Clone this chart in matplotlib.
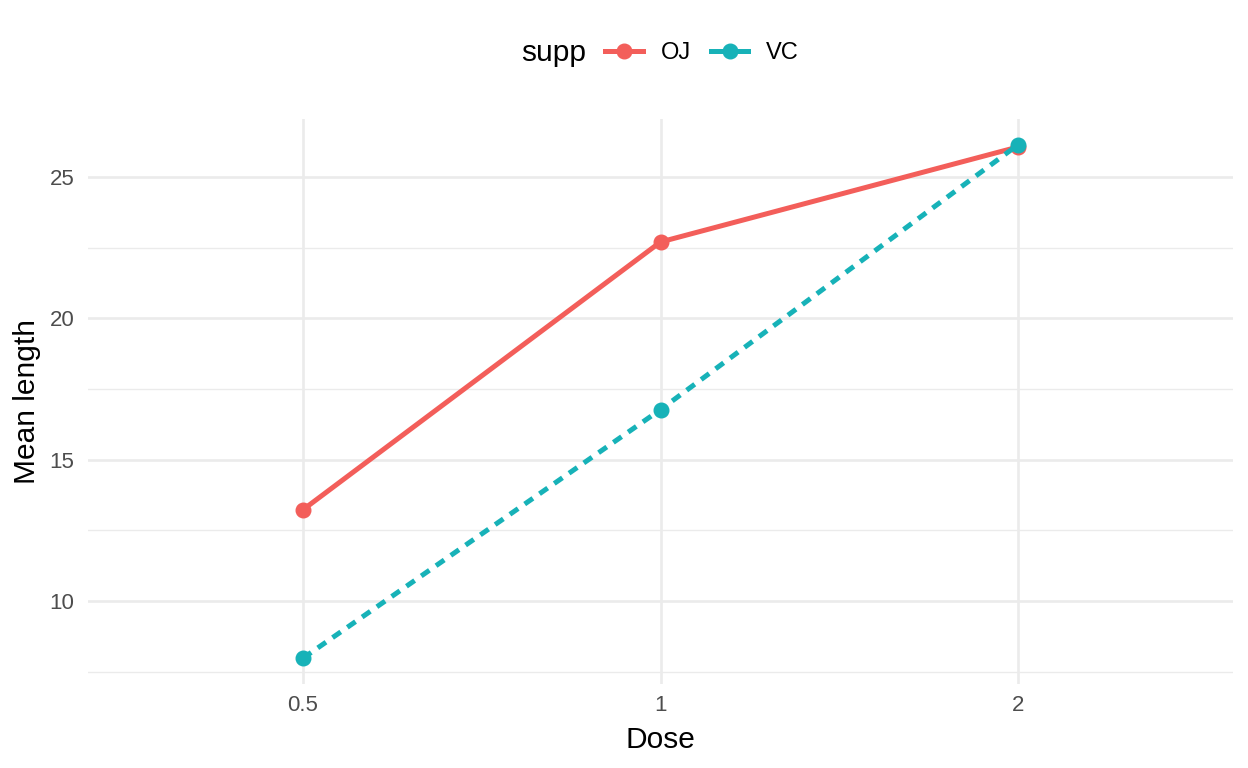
import matplotlib
matplotlib.use("Agg")
import matplotlib.pyplot as plt
from matplotlib.lines import Line2D

doses = ["0.5", "1", "2"]
oj_len = [13.23, 22.70, 26.06]
vc_len = [7.98, 16.77, 26.14]
supp_labels = ["OJ", "VC"]
colors = ["#F35E5A", "#17B2B8"]

plt.rcParams['font.family'] = ['Liberation Sans', 'DejaVu Sans']

fig = plt.figure(figsize=(12.48, 7.68), dpi=100)
ax = fig.add_axes([0.0709, 0.1096, 0.9167, 0.7354])

x = list(range(len(doses)))
lw = 3.6
ax.plot(x, oj_len, color=colors[0], lw=lw, marker='o', ms=10.5, solid_capstyle='butt', zorder=3)
ax.plot(x, vc_len, color=colors[1], lw=lw, marker='o', ms=10.5, linestyle=(0, (2, 1.6)), zorder=3)

ax.set_xlim(-0.6, 2.6)
lo, hi = min(vc_len + oj_len), max(vc_len + oj_len)
pad = (hi - lo) * 0.05
ax.set_ylim(lo - pad, hi + pad)
ax.set_xticks(x)
ax.set_xticklabels(doses)
ax.set_yticks([10, 15, 20, 25])
ax.set_yticks([7.5, 12.5, 17.5, 22.5], minor=True)

for s in ax.spines.values():
    s.set_visible(False)
ax.tick_params(axis='both', which='both', length=0, labelsize=16, labelcolor='#4D4D4D')
ax.tick_params(axis='y', pad=10)
ax.tick_params(axis='x', pad=8)
ax.grid(True, which='major', color='#EBEBEB', lw=1.9, zorder=0)
ax.grid(True, which='minor', axis='y', color='#EBEBEB', lw=1.0, zorder=0)
ax.set_axisbelow(True)

ax.set_xlabel("Dose", fontsize=21.5, labelpad=7)
ax.set_ylabel("Mean length", fontsize=21.5, labelpad=6)

fig.text(0.4175, 0.931, "supp", fontsize=21.5, ha='left', va='center')
handles = [Line2D([], [], color=c, lw=lw, marker='o', ms=10.5) for c in colors]
fig.legend(handles, supp_labels, loc='center left', bbox_to_anchor=(0.4848, 0.931), ncol=2,
           frameon=False, fontsize=17, handlelength=1.6, handletextpad=0.75, columnspacing=0.85,
           borderaxespad=0, borderpad=0)

fig.savefig("out.png", dpi=100)
